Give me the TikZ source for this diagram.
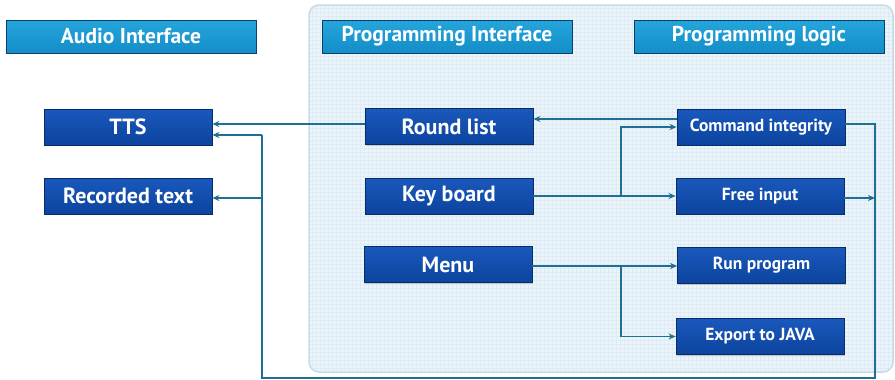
\documentclass[tikz,border=0pt]{standalone}
\usepackage{fontspec}
\setmainfont{PT Sans}
\usetikzlibrary{arrows.meta,shadows}
\definecolor{hdtop}{HTML}{25A6DB}
\definecolor{hdbot}{HTML}{138DC8}
\definecolor{hdline}{HTML}{0D3F6E}
\definecolor{bxtop}{HTML}{1A58BC}
\definecolor{bxbot}{HTML}{0C449E}
\definecolor{bxline}{HTML}{072D68}
\definecolor{conncol}{HTML}{1F6F92}
\definecolor{panelfill}{HTML}{EAF4FA}
\definecolor{panelline}{HTML}{C6DBE8}
\definecolor{gridcol}{HTML}{DCEBF4}
\tikzset{
  hdbox/.style={rectangle, draw=hdline, line width=0.8pt, top color=hdtop, bottom color=hdbot,
    minimum width=250pt, minimum height=33pt, text=white, font=\bfseries\fontsize{21.5}{24}\selectfont,
    drop shadow={opacity=0.35, shadow xshift=0.8pt, shadow yshift=-1pt}},
  dkbox/.style={rectangle, draw=bxline, line width=0.8pt, top color=bxtop, bottom color=bxbot,
    minimum width=168pt, minimum height=36pt, text=white, font=\bfseries\fontsize{22}{24}\selectfont,
    drop shadow={opacity=0.35, shadow xshift=0.8pt, shadow yshift=-1pt}},
  smbox/.style={dkbox, font=\bfseries\fontsize{17.5}{20}\selectfont},
  conn/.style={draw=conncol, line width=1.3pt},
  arr/.style={conn, -{Stealth[length=7pt,width=6pt]}}
}
\begin{document}
\begin{tikzpicture}[x=1pt,y=-1pt]
\useasboundingbox (0,0) rectangle (895,380);
% panel
\begin{scope}
\clip[rounded corners=10pt] (309,5) rectangle (893,372);
\fill[panelfill] (309,5) rectangle (893,372);
\draw[gridcol, line width=0.3pt, step=4pt] (309,5) grid (893,372);
\end{scope}
\draw[panelline, line width=1.5pt, rounded corners=10pt] (309,5) rectangle (893,372);
% headers
\node[hdbox] (audio) at (131,36.5) {Audio Interface};
\node[hdbox] (progi) at (447,36.5) {Programming Interface};
\node[hdbox] (progl) at (759,36.5) {Programming logic};
% boxes
\node[dkbox] (tts) at (128,127) {TTS};
\node[dkbox] (rec) at (128,196) {Recorded text};
\node[dkbox] (round) at (449,126.5) {Round list};
\node[dkbox] (key) at (449,196) {Key board};
\node[dkbox] (menu) at (448,264.5) {Menu};
\node[smbox] (cmd) at (761,127) {Command integrity};
\node[smbox] (free) at (760,196) {Free input};
\node[smbox] (run) at (761.5,265.5) {Run program};
\node[smbox] (export) at (760,336.5) {Export to JAVA};
% coordinates
\coordinate (kb) at (621,196);
\coordinate (mb) at (621,266);
\coordinate (r1) at (875,124);
\coordinate (r2) at (875,378);
\coordinate (l1) at (262,378);
\coordinate (l2) at (262,135);
\coordinate (lr) at (262,198);
\coordinate (fr) at (875,198);
% connectors
\draw[arr] ([yshift=8pt]cmd.west) -- ([yshift=8pt]cmd.west -| round.east);
\draw[arr] ([yshift=3pt]tts.east -| round.west) -- ([yshift=3pt]tts.east);
\draw[arr] (key.east |- kb) -- (free.west |- kb);
\draw[arr] (kb) |- (cmd.west);
\draw[arr] (menu.east |- mb) -- (run.west |- mb);
\draw[arr] (mb) |- (export.west);
\draw[conn] (cmd.east |- r1) -- (r1) -- (r2) -- (l1) -- (l2);
\draw[arr] (l2) -- (tts.east |- l2);
\draw[arr] (lr) -- (rec.east |- lr);
\draw[arr] (free.east |- fr) -- (fr);
\end{tikzpicture}
\end{document}
